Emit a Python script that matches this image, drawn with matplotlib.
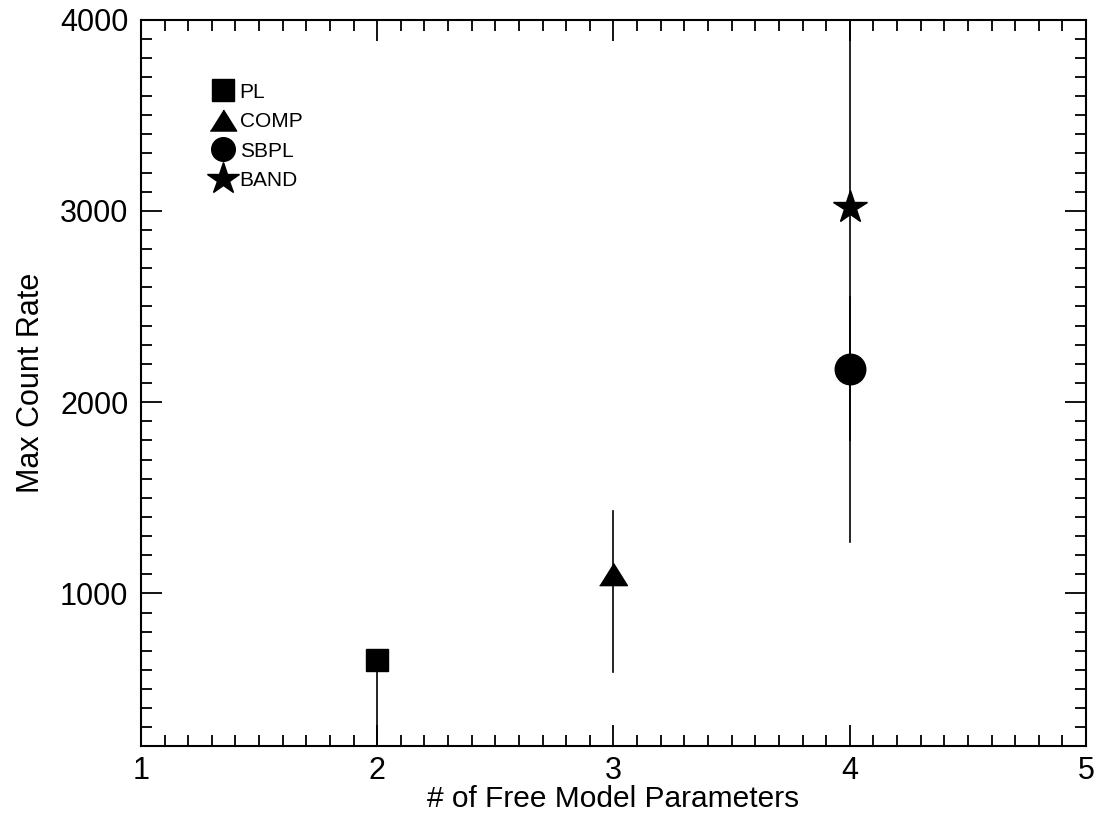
import matplotlib
matplotlib.use("Agg")
import matplotlib.pyplot as plt
from matplotlib.lines import Line2D
from matplotlib.ticker import MultipleLocator

plt.rcParams['font.family'] = ['Liberation Sans', 'DejaVu Sans']

# model fits: free parameters vs max count rate
models = ['PL', 'COMP', 'SBPL', 'BAND']
n_params = [2, 3, 4, 4]
rate = [650, 1100, 2175, 3020]
rate_lo = [150, 590, 1800, 1270]
rate_hi = [650, 1430, 2550, 4500]

# flat-ish triangle like the original
tri = [(-1, -0.8), (1, -0.8), (0, 0.8)]
markers = ['s', tri, 'o', '*']
msizes = [16, 20, 22, 25]
leg_sizes = [16, 19, 17, 24]

fig = plt.figure(figsize=(10.97, 8.16), dpi=100)
ax = fig.add_axes([0.1285, 0.0852, 0.8615, 0.8909])

for x, lo, hi in zip(n_params, rate_lo, rate_hi):
    ax.plot([x, x], [lo, hi], color='black', lw=1.2, zorder=2)

for x, y, m, s in zip(n_params, rate, markers, msizes):
    ax.plot([x], [y], linestyle='none', marker=m, markersize=s,
            color='black', zorder=3)

ax.set_xlim(1, 5)
ax.set_ylim(200, 4000)
ax.xaxis.set_major_locator(MultipleLocator(1))
ax.xaxis.set_minor_locator(MultipleLocator(0.1))
ax.yaxis.set_major_locator(MultipleLocator(1000))
ax.yaxis.set_minor_locator(MultipleLocator(100))

ax.tick_params(which='both', direction='in', top=True, right=True,
               width=1.3, labelsize=22, pad=9)
ax.tick_params(axis='x', pad=7)
ax.tick_params(which='major', length=15)
ax.tick_params(which='minor', length=8)
for sp in ax.spines.values():
    sp.set_linewidth(1.5)

ax.set_xlabel('# of Free Model Parameters', fontsize=21.5, labelpad=-1)
ax.set_ylabel('Max Count Rate', fontsize=22, labelpad=10)

handles = [Line2D([], [], linestyle='none', marker=m, markersize=s, color='black')
           for m, s in zip(markers, leg_sizes)]
ax.legend(handles, models, loc='upper left', bbox_to_anchor=(0.0758, 0.913),
          frameon=False, fontsize=15, handlelength=1.0, handletextpad=0.3,
          labelspacing=0.5, borderpad=0, borderaxespad=0)

fig.savefig('out.png', dpi=100)
